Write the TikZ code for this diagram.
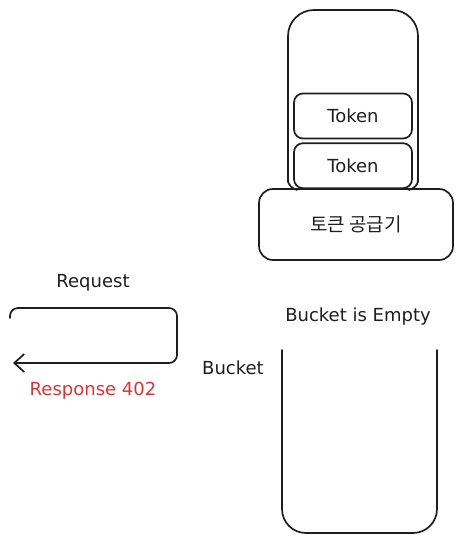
\documentclass[tikz,border=0pt]{standalone}
\usepackage{fontspec}
\setmainfont{DejaVu Sans}
\newfontfamily\krfont{Noto Sans CJK KR}
\usepackage{xcolor}
\usepackage{tikz}
\usetikzlibrary{arrows.meta,positioning,calc}

\definecolor{ink}{HTML}{1E1E1E}
\definecolor{errred}{HTML}{E03131}

\begin{document}
\begin{tikzpicture}[
    x=1pt, y=-1pt,
    every node/.style={font=\fontsize{18}{21}\selectfont, text=ink},
    sketch/.style={draw=ink, line width=1.7pt, line cap=round, line join=round},
    token/.style={sketch, rectangle, rounded corners=9pt, minimum width=118pt, minimum height=45pt, inner sep=0pt},
    supplier/.style={sketch, rectangle, rounded corners=14pt, minimum width=194pt, minimum height=71pt, inner sep=0pt},
    label/.style={inner sep=1pt},
    arrow/.style={sketch, -{Straight Barb[length=10pt,width=18pt,line width=1.7pt]}}
]
\useasboundingbox (0,0) rectangle (462,543);

% Token bucket (top)
\draw[sketch, rounded corners=26pt] (288,182) -- (288,10) -- (418,10) -- (418,182);
\draw[sketch] (288,180) to[out=-90,in=160] (297,190);
\draw[sketch] (418,180) to[out=-90,in=20] (409,190);

% Nodes
\node[token] (tok1) at (353,116) {Token};
\node[token, below=3pt of tok1] (tok2) {Token};
\node[supplier] (gen) at (356,224.5) {\krfont\fontsize{19}{22}\selectfont 토큰 공급기};

\node[label] (req) at (93,283) {Request};
\node[label, text=errred] (resp) at (93,391) {Response 402};
\node[label] (bucket) at (233,368) {Bucket};
\node[label] (empty) at (358,317) {Bucket is Empty};

% Empty bucket (bottom)
\draw[sketch, rounded corners=24pt] (282,350) -- (282,533) -- (437,533) -- (437,350);

% Arrows
\coordinate (reqin) at (10,318);
\coordinate (respout) at (13,363);
\draw[arrow, rounded corners=8pt] (reqin) -- (10,308) -- (177,308) -- (177,363) -- (respout);

\end{tikzpicture}
\end{document}
